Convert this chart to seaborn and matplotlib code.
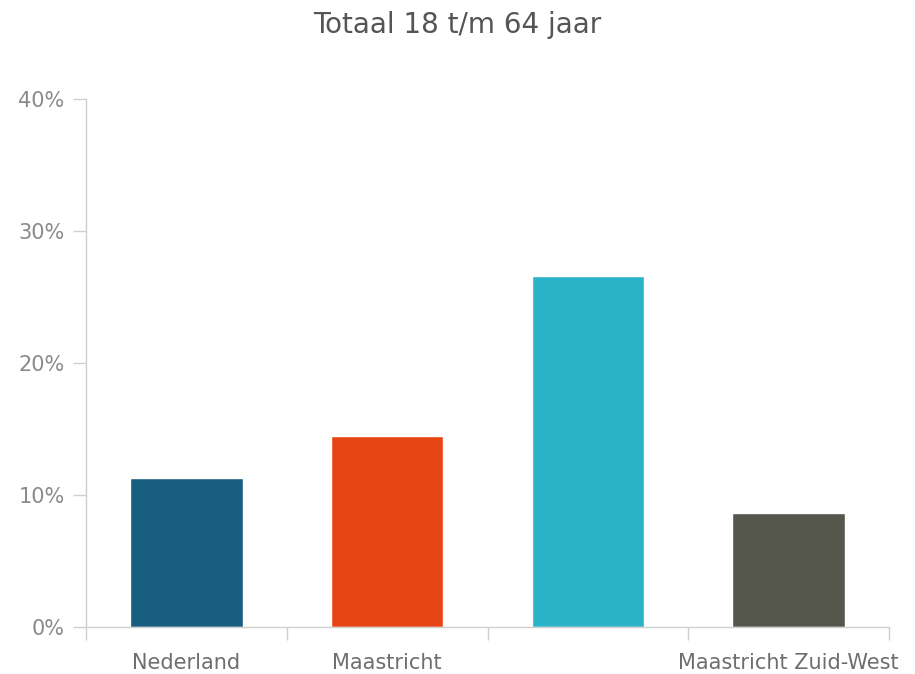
import numpy as np
import pandas as pd
import matplotlib
matplotlib.use("Agg")
import matplotlib.pyplot as plt
import seaborn as sns
from matplotlib.ticker import FuncFormatter

# Données
categories = ["Nederland", "Maastricht", "", "Maastricht Zuid-West"]
valeurs = [11.3, 14.5, 26.6, 8.6]
couleurs = ["#185e80", "#e84515", "#2ab3c6", "#55564c"]
yticks = [0, 10, 20, 30, 40]
titre = "Totaal 18 t/m 64 jaar"

sns.set_style("white")
plt.rcParams["font.family"] = ["DejaVu Sans"]

df = pd.DataFrame({"cat": [str(i) for i in range(len(categories))], "val": valeurs})

fig = plt.figure(figsize=(9.15, 6.74), dpi=100)
ax = fig.add_axes([0.094, 0.0697, 0.8776, 0.7834])

sns.barplot(data=df, x="cat", y="val", hue="cat", palette=couleurs,
            width=0.56, legend=False, ax=ax, saturation=1)

ax.set_xlim(-0.5, len(categories) - 0.5)
ax.set_ylim(0, 40)
ax.set_yticks(yticks)
ax.yaxis.set_major_formatter(FuncFormatter(lambda v, p: f"{v:.0f}%"))

ax.set_xticks(range(len(categories)))
ax.set_xticklabels(categories)
ax.set_xticks(np.arange(-0.5, len(categories), 1.0), minor=True)
ax.tick_params(axis="x", which="major", bottom=False, length=0, pad=19,
               labelsize=15, labelcolor="#6e6e6e")
ax.tick_params(axis="x", which="minor", bottom=True, length=9.5, width=1,
               color="#cfcfcf", direction="out")
ax.tick_params(axis="y", which="major", left=True, length=9.5, width=1,
               color="#cfcfcf", pad=6, labelsize=15, labelcolor="#8a8a8a")

for s in ["top", "right"]:
    ax.spines[s].set_visible(False)
for s in ["left", "bottom"]:
    ax.spines[s].set_color("#cfcfcf")
    ax.spines[s].set_linewidth(1)

ax.set_xlabel("")
ax.set_ylabel("")
fig.text(0.5, 0.963, titre, ha="center", va="center", fontsize=20, color="#555555")

fig.savefig("out.png", dpi=100)
